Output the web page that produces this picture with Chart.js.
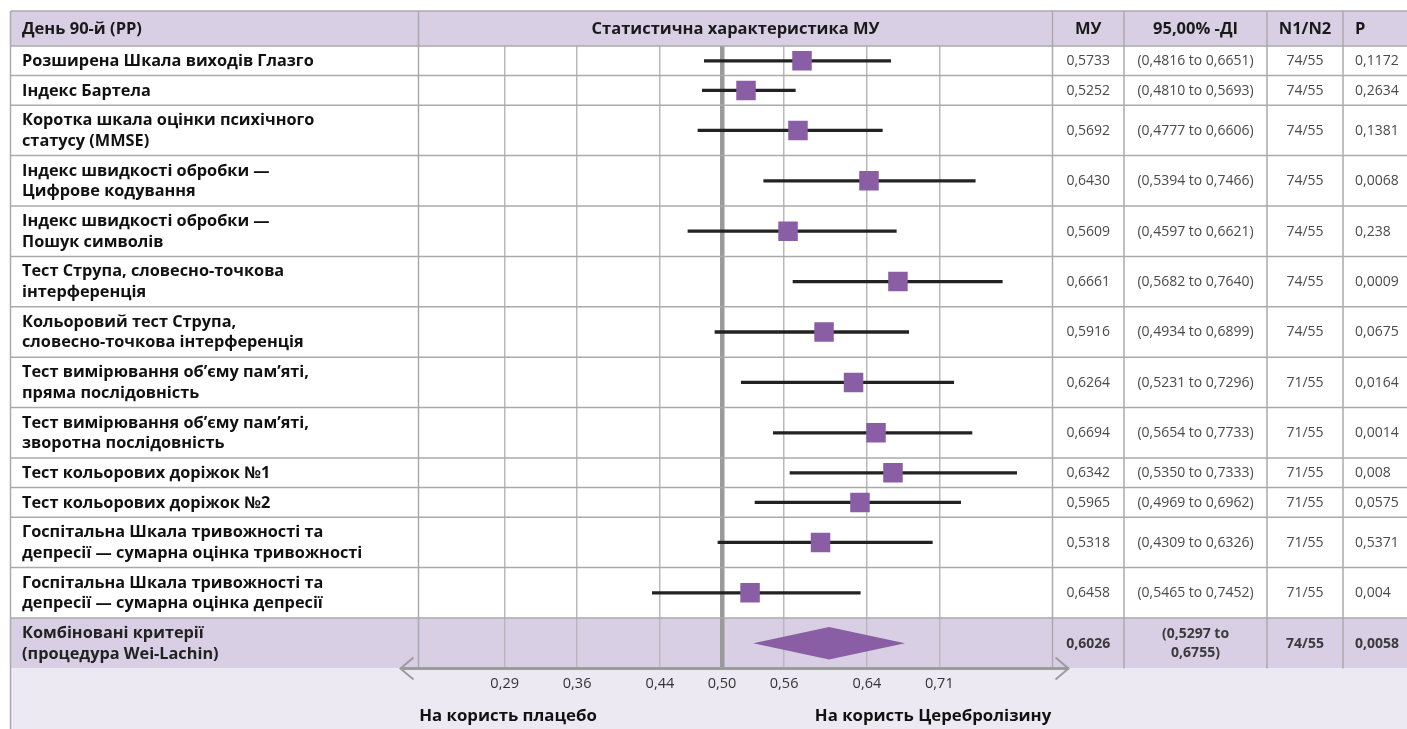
<!DOCTYPE html>
<html><head><meta charset="utf-8">
<script src="https://cdn.jsdelivr.net/npm/chart.js@4.4.1/dist/chart.umd.min.js"></script>
<style>html,body{margin:0;padding:0;background:#fff}#wrap{position:relative;width:1407px;height:729px}</style>
</head><body><div id="wrap"><canvas id="c"></canvas></div>
<script>
// ---------- data ----------
const rowLabels = [
  "Розширена Шкала виходів Глазго",
  "Індекс Бартела",
  "Коротка шкала оцінки психічного\nстатусу (MMSE)",
  "Індекс швидкості обробки —\nЦифрове кодування",
  "Індекс швидкості обробки —\nПошук символів",
  "Тест Струпа, словесно-точкова\nінтерференція",
  "Кольоровий тест Струпа,\nсловесно-точкова інтерференція",
  "Тест вимірювання об’єму пам’яті,\nпряма послідовність",
  "Тест вимірювання об’єму пам’яті,\nзворотна послідовність",
  "Тест кольорових доріжок №1",
  "Тест кольорових доріжок №2",
  "Госпітальна Шкала тривожності та\nдепресії — сумарна оцінка тривожності",
  "Госпітальна Шкала тривожності та\nдепресії — сумарна оцінка депресії"
];
const plotMU = [0.5773, 0.5232, 0.5734, 0.6420, 0.5638, 0.6700, 0.5986, 0.6271, 0.6488, 0.6652, 0.6333, 0.5952, 0.5271];
const plotLo = [0.4829, 0.4810, 0.4768, 0.5403, 0.4671, 0.5686, 0.4932, 0.5186, 0.5496, 0.5657, 0.5319, 0.4961, 0.4327];
const plotHi = [0.6630, 0.5708, 0.6549, 0.7447, 0.6684, 0.7708, 0.6804, 0.7239, 0.7415, 0.7847, 0.7306, 0.7032, 0.6336];
// table texts
const muText = ["0,5733","0,5252","0,5692","0,6430","0,5609","0,6661","0,5916","0,6264","0,6694","0,6342","0,5965","0,5318","0,6458"];
const ciText = ["(0,4816 to 0,6651)","(0,4810 to 0,5693)","(0,4777 to 0,6606)","(0,5394 to 0,7466)","(0,4597 to 0,6621)","(0,5682 to 0,7640)","(0,4934 to 0,6899)","(0,5231 to 0,7296)","(0,5654 to 0,7733)","(0,5350 to 0,7333)","(0,4969 to 0,6962)","(0,4309 to 0,6326)","(0,5465 to 0,7452)"];
const nText = ["74/55","74/55","74/55","74/55","74/55","74/55","74/55","71/55","71/55","71/55","71/55","71/55","71/55"];
const pText = ["0,1172","0,2634","0,1381","0,0068","0,238","0,0009","0,0675","0,0164","0,0014","0,008","0,0575","0,5371","0,004"];
// combined row
const combinedLabel = "Комбіновані критерії\n(процедура Wei-Lachin)";
const combinedPlot = [0.5302, 0.6034, 0.6768]; // lo, mu, hi as plotted
const combinedTexts = ["0,6026", "(0,5297 to\n0,6755)", "74/55", "0,0058"];
// header + axis
const headerTexts = ["День 90-й (РР)", "Статистична характеристика МУ", "МУ", "95,00% -ДІ", "N1/N2", "P"];
const tickValues = [0.29, 0.36, 0.44, 0.50, 0.56, 0.64, 0.71];
const footerTexts = ["На користь плацебо", "На користь Церебролізину"];

// ---------- layout / style ----------
const PURPLE = '#8a5ea4';
const HEADER_BG = '#d8cfe5';
const FOOT_BG = '#ece9f3';
const BORDER = '#aaaaaa';
const FONT = '"Open Sans", "Noto Sans", sans-serif';
const W = 1407, H = 729;
const TABLE_LEFT = 10.5, TABLE_TOP = 11;
const PLOT_TOP = 46, PLOT_BOTTOM = 668.4;
const PLOT_LEFT = 418.5, PLOT_RIGHT = 1052.5;
const COL_X = [1124, 1267, 1343];
const LINE_H = {1: 29.6, 2: 50.4};
const X_MIN = 0.20676, X_MAX = 0.81932;

const allLabels = rowLabels.concat([combinedLabel]);
const heights = allLabels.map(l => LINE_H[l.split('\n').length]);
const bounds = [0];
heights.forEach(h => bounds.push(bounds[bounds.length - 1] + h));
const centers = heights.map((h, i) => bounds[i] + h / 2);
const TOTAL = bounds[bounds.length - 1];
const cIdx = rowLabels.length;
const DIAMOND_HALF = 16.2;

function drawText(ctx, text, x, yc, gap, align, font, color) {
  const lines = text.split('\n');
  ctx.font = font; ctx.fillStyle = color; ctx.textAlign = align; ctx.textBaseline = 'middle';
  lines.forEach((ln, i) => ctx.fillText(ln, x, yc + (i - (lines.length - 1) / 2) * gap));
}

const tablePlugin = {
  id: 'tablePlugin',
  beforeDraw(chart) {
    const ctx = chart.ctx, ys = chart.scales.y, ca = chart.chartArea;
    ctx.save();
    ctx.fillStyle = '#fff'; ctx.fillRect(0, 0, W, H);
    ctx.fillStyle = HEADER_BG;
    ctx.fillRect(TABLE_LEFT, TABLE_TOP, W - TABLE_LEFT, ca.top - TABLE_TOP);
    const t = ys.getPixelForValue(bounds[cIdx]), b = ys.getPixelForValue(bounds[cIdx + 1]);
    ctx.fillRect(TABLE_LEFT, t, W - TABLE_LEFT, b - t);
    ctx.fillStyle = FOOT_BG;
    ctx.fillRect(TABLE_LEFT, ca.bottom, W - TABLE_LEFT, H - ca.bottom);
    ctx.restore();
  },
  afterDraw(chart) {
    const ctx = chart.ctx, ys = chart.scales.y, ca = chart.chartArea;
    ctx.save();
    // horizontal borders
    ctx.strokeStyle = BORDER; ctx.lineWidth = 1.5;
    ctx.beginPath();
    ctx.moveTo(TABLE_LEFT, TABLE_TOP); ctx.lineTo(W, TABLE_TOP);
    bounds.forEach((v, i) => {
      if (i === bounds.length - 1) return;
      const y = ys.getPixelForValue(v);
      ctx.moveTo(TABLE_LEFT, y); ctx.lineTo(W, y);
    });
    ctx.stroke();
    // vertical borders
    ctx.beginPath();
    ctx.moveTo(TABLE_LEFT, TABLE_TOP); ctx.lineTo(TABLE_LEFT, H);
    [ca.left, ca.right].concat(COL_X).forEach(x => { ctx.moveTo(x, TABLE_TOP); ctx.lineTo(x, ca.bottom); });
    ctx.stroke();
    // bottom axis with arrows
    ctx.strokeStyle = '#9c9c9c'; ctx.lineWidth = 3;
    ctx.beginPath(); ctx.moveTo(ca.left - 18, ca.bottom); ctx.lineTo(ca.right + 16, ca.bottom); ctx.stroke();
    ctx.lineWidth = 2;
    ctx.beginPath();
    ctx.moveTo(ca.left - 5, ca.bottom - 11); ctx.lineTo(ca.left - 18, ca.bottom); ctx.lineTo(ca.left - 5, ca.bottom + 11);
    ctx.moveTo(ca.right + 3, ca.bottom - 11); ctx.lineTo(ca.right + 16, ca.bottom); ctx.lineTo(ca.right + 3, ca.bottom + 11);
    ctx.stroke();

    // header texts
    const hy = (TABLE_TOP + ca.top) / 2 + 0.5;
    const hb = '700 16.5px ' + FONT;
    drawText(ctx, headerTexts[0], 22, hy, 20, 'left', hb, '#1a1a1a');
    drawText(ctx, headerTexts[1], (ca.left + ca.right) / 2, hy, 20, 'center', hb, '#1a1a1a');
    drawText(ctx, headerTexts[2], (ca.right + COL_X[0]) / 2, hy, 20, 'center', hb, '#1a1a1a');
    drawText(ctx, headerTexts[3], (COL_X[0] + COL_X[1]) / 2, hy, 20, 'center', hb, '#1a1a1a');
    drawText(ctx, headerTexts[4], (COL_X[1] + COL_X[2]) / 2, hy, 20, 'center', hb, '#1a1a1a');
    drawText(ctx, headerTexts[5], COL_X[2] + 12, hy, 20, 'left', hb, '#1a1a1a');

    // rows
    const bold = '700 16.3px ' + FONT;
    const reg = '400 14px ' + FONT;
    rowLabels.forEach((lab, i) => {
      const yc = ys.getPixelForValue(centers[i]) + 0.5;
      drawText(ctx, lab, 22, yc, 20.5, 'left', bold, '#111');
      drawText(ctx, muText[i], (ca.right + COL_X[0]) / 2, yc, 20, 'center', reg, '#4a4a4a');
      drawText(ctx, ciText[i], (COL_X[0] + COL_X[1]) / 2, yc, 20, 'center', reg, '#4a4a4a');
      drawText(ctx, nText[i], (COL_X[1] + COL_X[2]) / 2, yc, 20, 'center', reg, '#4a4a4a');
      drawText(ctx, pText[i], COL_X[2] + 12, yc, 20, 'left', reg, '#4a4a4a');
    });
    // combined row
    const cy = ys.getPixelForValue(centers[cIdx]) + 0.5;
    const cb = '700 14px ' + FONT;
    drawText(ctx, combinedLabel, 22, cy, 20.5, 'left', bold, '#222');
    drawText(ctx, combinedTexts[0], (ca.right + COL_X[0]) / 2, cy, 19, 'center', cb, '#3a3a3a');
    drawText(ctx, combinedTexts[1], (COL_X[0] + COL_X[1]) / 2, cy, 19, 'center', cb, '#3a3a3a');
    drawText(ctx, combinedTexts[2], (COL_X[1] + COL_X[2]) / 2, cy, 19, 'center', cb, '#3a3a3a');
    drawText(ctx, combinedTexts[3], COL_X[2] + 12, cy, 19, 'left', cb, '#3a3a3a');

    // footer
    const fb = '700 16.8px ' + FONT;
    drawText(ctx, footerTexts[0], 508, 716, 20, 'center', fb, '#111');
    drawText(ctx, footerTexts[1], 933, 716, 20, 'center', fb, '#111');
    ctx.restore();
  }
};

const diamondUpper = [
  {x: combinedPlot[0], y: centers[cIdx]},
  {x: combinedPlot[1], y: centers[cIdx] - DIAMOND_HALF},
  {x: combinedPlot[2], y: centers[cIdx]}
];
const diamondLower = [
  {x: combinedPlot[0], y: centers[cIdx]},
  {x: combinedPlot[1], y: centers[cIdx] + DIAMOND_HALF},
  {x: combinedPlot[2], y: centers[cIdx]}
];

new Chart(document.getElementById('c'), {
  type: 'scatter',
  data: {
    datasets: [
      {
        label: 'МУ',
        data: plotMU.map((v, i) => ({x: v, y: centers[i]})),
        pointStyle: 'rect',
        pointRadius: 19.5 / Math.SQRT2,
        pointBorderWidth: 0,
        backgroundColor: PURPLE,
        borderColor: PURPLE
      },
      {
        type: 'bar',
        label: '95% ДІ',
        indexAxis: 'y',
        data: plotLo.map((lo, i) => ({x: [lo, plotHi[i]], y: centers[i]})),
        barThickness: 2.6,
        backgroundColor: '#222',
        borderWidth: 0
      },
      {
        type: 'line', label: 'diamond-top', data: diamondUpper,
        borderColor: 'rgba(0,0,0,0)', borderWidth: 0, pointRadius: 0,
        backgroundColor: PURPLE, fill: false, tension: 0
      },
      {
        type: 'line', label: 'diamond-bottom', data: diamondLower,
        borderColor: 'rgba(0,0,0,0)', borderWidth: 0, pointRadius: 0,
        backgroundColor: PURPLE, fill: '-1', tension: 0
      }
    ]
  },
  options: {
    responsive: true,
    maintainAspectRatio: false,
    animation: false,
    events: [],
    layout: { padding: { left: PLOT_LEFT, right: W - PLOT_RIGHT, top: PLOT_TOP, bottom: 0 } },
    plugins: { legend: { display: false }, tooltip: { enabled: false } },
    scales: {
      x: {
        type: 'linear', min: X_MIN, max: X_MAX, offset: false,
        afterBuildTicks: (axis) => { axis.ticks = tickValues.map(v => ({value: v})); },
        afterFit: (scale) => { scale.height = H - PLOT_BOTTOM; },
        ticks: {
          autoSkip: false, maxRotation: 0, padding: 7,
          font: { family: FONT, size: 14.5 }, color: '#333',
          callback: (v) => Number(v).toFixed(2).replace('.', ',')
        },
        grid: {
          drawTicks: false, offset: false,
          color: (c) => (c.tick && Math.abs(c.tick.value - 0.5) < 1e-9) ? '#9a9a9a' : '#b9b9b9',
          lineWidth: (c) => (c.tick && Math.abs(c.tick.value - 0.5) < 1e-9) ? 4.5 : 1.5
        },
        border: { display: false }
      },
      y: {
        type: 'linear', min: 0, max: TOTAL, reverse: true, offset: false,
        display: false, grid: { display: false, offset: false }
      }
    }
  },
  plugins: [tablePlugin]
});
</script></body></html>
